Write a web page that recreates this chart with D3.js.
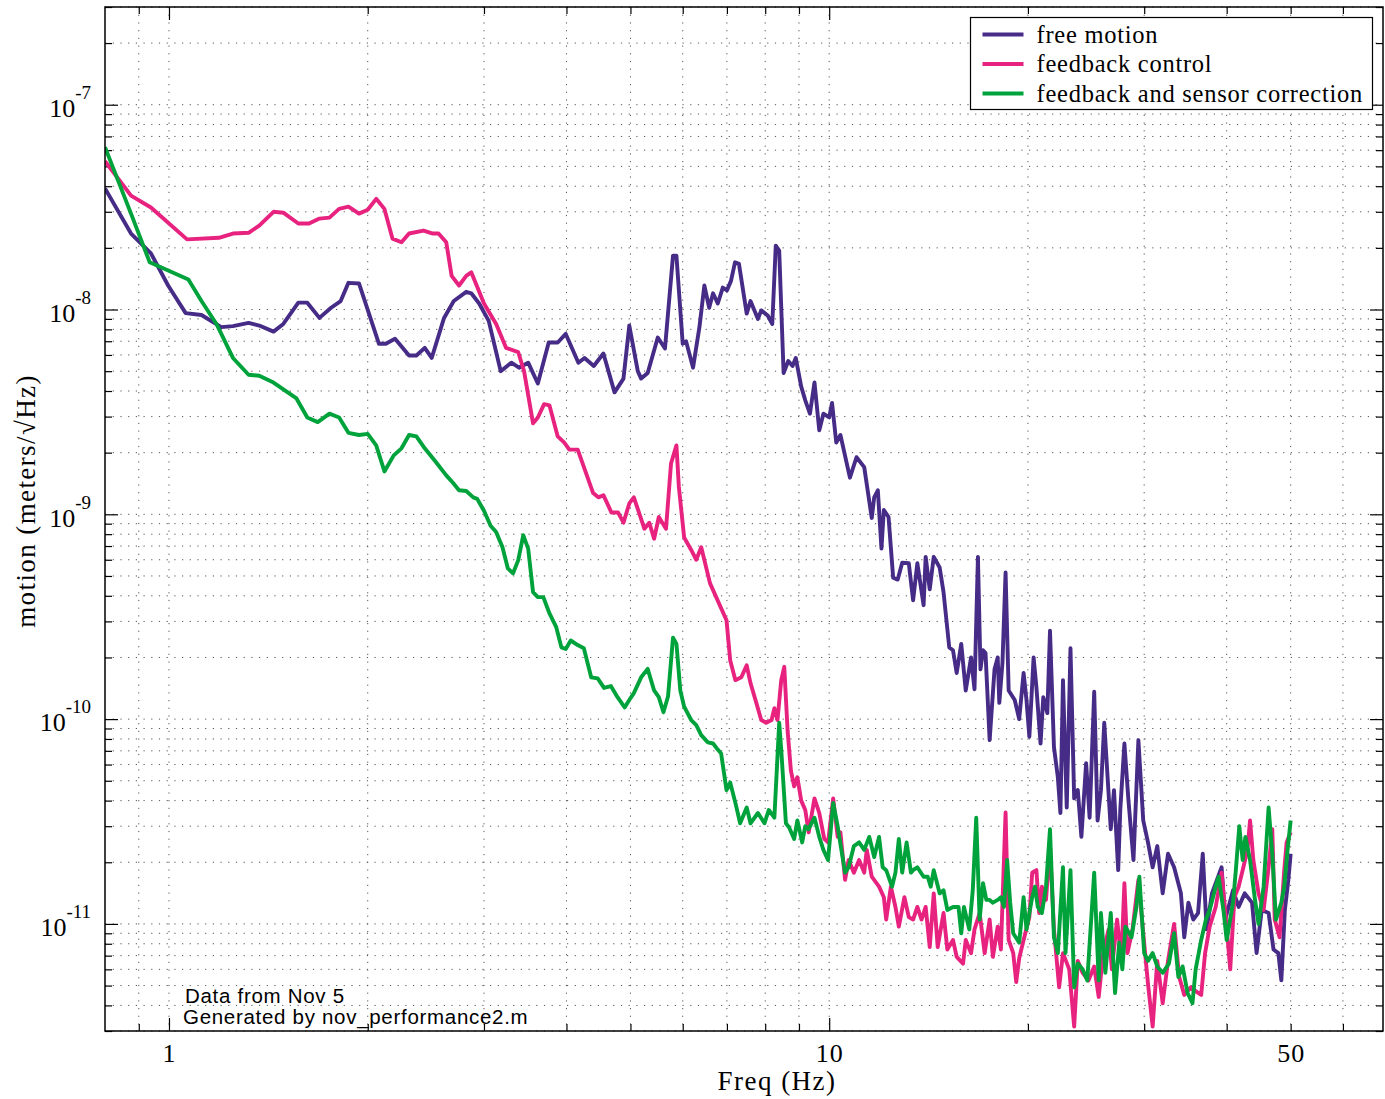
<!DOCTYPE html>
<html>
<head>
<meta charset="utf-8">
<script src="https://cdn.jsdelivr.net/npm/d3@7"></script>
<style>
  body { margin: 0; background: #fff; }
  svg { display: block; }
  .axis path { display: none; }
  .axis line { stroke: #000; stroke-width: 1.2; }
  .grid line { stroke: #555; stroke-width: 1; stroke-dasharray: 1.2, 6.5; }
</style>
</head>
<body>
<div id="chart"></div>
<script>
// free motion (purple) [Hz, m/rtHz]
var freeMotion = [
  [0.80, 3.9e-8], [0.876, 2.35e-8], [0.939, 1.88e-8], [0.997, 1.31e-8], [1.06, 9.6e-9],
  [1.12, 9.4e-9], [1.20, 8.2e-9], [1.25, 8.3e-9], [1.32, 8.6e-9], [1.37, 8.35e-9],
  [1.44, 7.8e-9], [1.49, 8.5e-9], [1.57, 1.08e-8], [1.62, 1.08e-8], [1.69, 9.1e-9],
  [1.76, 1.02e-8], [1.82, 1.1e-8], [1.87, 1.35e-8], [1.94, 1.34e-8], [2.08, 6.8e-9],
  [2.13, 6.8e-9], [2.20, 7.2e-9], [2.31, 5.96e-9], [2.37, 5.96e-9], [2.44, 6.5e-9],
  [2.50, 5.8e-9], [2.61, 9.1e-9], [2.70, 1.1e-8], [2.82, 1.22e-8], [2.87, 1.2e-8],
  [2.95, 1.07e-8], [3.05, 8.8e-9], [3.18, 5.0e-9], [3.30, 5.5e-9], [3.39, 5.2e-9],
  [3.50, 5.5e-9], [3.62, 4.35e-9], [3.76, 6.9e-9], [3.88, 6.9e-9], [3.99, 7.6e-9],
  [4.17, 5.5e-9], [4.26, 5.8e-9], [4.40, 5.3e-9], [4.55, 6.1e-9], [4.73, 3.94e-9],
  [4.88, 4.6e-9], [4.98, 8.35e-9], [5.13, 5.0e-9], [5.19, 4.6e-9], [5.31, 4.9e-9],
  [5.50, 7.3e-9], [5.64, 6.45e-9], [5.80, 1.83e-8], [5.87, 1.83e-8], [6.00, 6.8e-9],
  [6.07, 7.0e-9], [6.22, 5.2e-9], [6.36, 8.2e-9], [6.47, 1.31e-8], [6.58, 1.02e-8],
  [6.67, 1.2e-8], [6.78, 1.07e-8], [6.90, 1.28e-8], [7.00, 1.24e-8], [7.10, 1.38e-8],
  [7.20, 1.7e-8], [7.30, 1.67e-8], [7.50, 9.55e-9], [7.60, 1.1e-8], [7.80, 9.0e-9],
  [7.89, 9.9e-9], [8.07, 9.35e-9], [8.20, 8.5e-9], [8.30, 2.05e-8], [8.40, 1.94e-8],
  [8.53, 4.9e-9], [8.67, 5.6e-9], [8.80, 5.3e-9], [8.90, 5.8e-9], [9.07, 4.2e-9],
  [9.20, 3.6e-9], [9.35, 3.1e-9], [9.50, 4.4e-9], [9.66, 2.57e-9], [9.80, 3.1e-9],
  [10.0, 2.97e-9], [10.1, 3.5e-9], [10.25, 2.24e-9], [10.4, 2.44e-9], [10.75, 1.51e-9],
  [11.0, 1.9e-9], [11.3, 1.7e-9], [11.6, 9.6e-10], [11.7, 1.21e-9], [11.85, 1.31e-9],
  [12.0, 6.8e-10], [12.1, 1.05e-9], [12.3, 9.7e-10], [12.5, 4.9e-10], [12.7, 4.8e-10],
  [12.9, 5.8e-10], [13.2, 5.77e-10], [13.4, 3.8e-10], [13.6, 5.77e-10], [13.9, 3.6e-10],
  [14.0, 6.2e-10], [14.2, 4.3e-10], [14.4, 6.2e-10], [14.7, 5.5e-10], [14.9, 4.17e-10],
  [15.2, 2.24e-10], [15.4, 2.17e-10], [15.6, 1.68e-10], [15.85, 2.33e-10], [16.1, 1.38e-10],
  [16.4, 2.0e-10], [16.6, 1.4e-10], [16.8, 6.2e-10], [16.95, 1.75e-10], [17.1, 2.17e-10],
  [17.25, 2.1e-10], [17.5, 7.9e-11], [17.8, 1.75e-10], [18.0, 2.0e-10], [18.1, 1.2e-10],
  [18.3, 1.88e-10], [18.5, 5.2e-10], [18.7, 1.38e-10], [19.1, 1.24e-10], [19.4, 1.0e-10],
  [19.7, 1.68e-10], [19.9, 1.24e-10], [20.1, 8.2e-11], [20.4, 2.0e-10], [20.6, 1.43e-10],
  [20.9, 7.6e-11], [21.1, 1.28e-10], [21.4, 1.07e-10], [21.6, 2.7e-10], [21.9, 7.3e-11],
  [22.2, 5.2e-11], [22.4, 3.48e-11], [22.6, 1.55e-10], [22.9, 3.7e-11], [23.2, 2.22e-10],
  [23.5, 4.1e-11], [23.8, 4.5e-11], [24.1, 2.66e-11], [24.5, 6.1e-11], [24.8, 3.3e-11],
  [25.2, 1.36e-10], [25.5, 3.2e-11], [25.8, 4.5e-11], [26.1, 9.6e-11], [26.7, 2.9e-11],
  [27.0, 4.5e-11], [27.4, 1.83e-11], [27.6, 3.6e-11], [28.0, 7.6e-11], [28.4, 4.0e-11],
  [28.9, 2.05e-11], [29.4, 7.9e-11], [29.9, 3.2e-11], [30.4, 2.5e-11], [30.9, 1.89e-11],
  [31.4, 2.4e-11], [32.0, 1.41e-11], [32.6, 2.2e-11], [33.3, 1.89e-11], [34.1, 1.41e-11],
  [34.5, 8.6e-12], [35.0, 1.27e-11], [35.6, 1.05e-11], [36.2, 1.13e-11], [36.8, 2.2e-11],
  [37.3, 9.4e-12], [38.0, 1.41e-11], [39.3, 1.89e-11], [39.8, 1.05e-11], [40.9, 1.46e-11],
  [41.7, 1.21e-11], [42.6, 1.41e-11], [43.7, 1.27e-11], [44.4, 7.2e-12], [45.2, 1.17e-11],
  [46.3, 1.13e-11], [47.1, 7.5e-12], [47.9, 7.2e-12], [48.4, 5.3e-12], [49.0, 1.17e-11],
  [49.6, 1.64e-11], [50.0, 2.2e-11]
]

// feedback control (pink)
var feedbackControl = [
  [0.80, 5.3e-8], [0.876, 3.6e-8], [0.939, 3.15e-8], [1.065, 2.2e-8], [1.19, 2.24e-8],
  [1.25, 2.35e-8], [1.32, 2.37e-8], [1.37, 2.57e-8], [1.44, 3.0e-8], [1.49, 2.97e-8],
  [1.57, 2.63e-8], [1.63, 2.63e-8], [1.69, 2.78e-8], [1.75, 2.81e-8], [1.81, 3.1e-8],
  [1.87, 3.18e-8], [1.94, 2.94e-8], [2.0, 3.07e-8], [2.06, 3.47e-8], [2.12, 3.1e-8],
  [2.18, 2.22e-8], [2.25, 2.13e-8], [2.31, 2.35e-8], [2.43, 2.43e-8], [2.51, 2.35e-8],
  [2.56, 2.35e-8], [2.63, 2.13e-8], [2.68, 1.46e-8], [2.75, 1.31e-8], [2.82, 1.46e-8],
  [2.87, 1.52e-8], [3.0, 1.07e-8], [3.13, 8.5e-9], [3.24, 6.5e-9], [3.38, 6.2e-9],
  [3.45, 5.0e-9], [3.56, 2.78e-9], [3.62, 2.97e-9], [3.70, 3.45e-9], [3.77, 3.4e-9],
  [3.88, 2.4e-9], [3.97, 2.24e-9], [4.04, 2.07e-9], [4.16, 2.07e-9], [4.39, 1.27e-9],
  [4.47, 1.21e-9], [4.55, 1.24e-9], [4.68, 1.02e-9], [4.79, 1.02e-9], [4.88, 9.1e-10],
  [4.98, 1.13e-9], [5.06, 1.21e-9], [5.25, 8.5e-10], [5.34, 9.1e-10], [5.43, 7.6e-10],
  [5.52, 9.7e-10], [5.66, 8.5e-10], [5.76, 1.77e-9], [5.87, 2.17e-9], [5.92, 1.36e-9],
  [6.03, 7.7e-10], [6.18, 6.7e-10], [6.29, 6.0e-10], [6.40, 6.9e-10], [6.6, 4.6e-10],
  [6.99, 3.04e-10], [7.08, 1.94e-10], [7.21, 1.55e-10], [7.36, 1.6e-10], [7.50, 1.83e-10],
  [7.60, 1.5e-10], [7.75, 1.21e-10], [7.89, 9.9e-11], [8.03, 9.6e-11], [8.18, 9.9e-11],
  [8.26, 1.13e-10], [8.35, 9.9e-11], [8.46, 1.55e-10], [8.55, 1.8e-10], [8.65, 8.8e-11],
  [8.75, 5.6e-11], [8.85, 4.7e-11], [8.95, 5.2e-11], [9.07, 4.0e-11], [9.2, 3.6e-11],
  [9.31, 2.8e-11], [9.5, 4.1e-11], [9.66, 3.48e-11], [9.83, 2.6e-11], [9.96, 2.5e-11],
  [10.14, 4.1e-11], [10.3, 2.66e-11], [10.4, 2.8e-11], [10.57, 1.64e-11], [10.7, 2.05e-11],
  [10.9, 1.78e-11], [11.1, 2.05e-11], [11.3, 1.78e-11], [11.4, 2.3e-11], [11.6, 1.7e-11],
  [11.9, 1.52e-11], [12.1, 1.35e-11], [12.2, 1.05e-11], [12.4, 1.52e-11], [12.6, 1.21e-11],
  [12.75, 9.7e-12], [13.0, 1.35e-11], [13.2, 1.08e-11], [13.4, 1.05e-11], [13.6, 1.21e-11],
  [13.8, 1.05e-11], [14.0, 1.21e-11], [14.2, 7.7e-12], [14.4, 1.41e-11], [14.6, 7.7e-12],
  [14.9, 1.13e-11], [15.1, 7.5e-12], [15.4, 8.35e-12], [15.6, 6.9e-12], [15.95, 6.4e-12],
  [16.1, 8.35e-12], [16.4, 7.2e-12], [16.6, 9.4e-12], [16.9, 1.13e-11], [17.2, 7.2e-12],
  [17.5, 1.05e-11], [17.7, 6.9e-12], [18.0, 9.7e-12], [18.2, 7.5e-12], [18.5, 3.5e-11],
  [18.7, 8.35e-12], [19.0, 7.2e-12], [19.2, 5.2e-12], [19.4, 6.8e-12], [19.7, 8.35e-12],
  [20.1, 1.08e-11], [20.3, 1.78e-11], [20.6, 1.83e-11], [20.8, 1.13e-11], [21.0, 1.52e-11],
  [21.3, 1.31e-11], [21.6, 2.4e-11], [21.9, 9.4e-12], [22.3, 4.9e-12], [22.6, 7.2e-12],
  [23.1, 6.0e-12], [23.5, 3.15e-12], [23.8, 6.6e-12], [24.2, 5.77e-12], [24.7, 5.3e-12],
  [25.2, 6.2e-12], [25.6, 4.4e-12], [26.0, 7.2e-12], [26.5, 9.4e-12], [26.8, 6.0e-12],
  [27.3, 1.05e-11], [27.7, 6.6e-12], [28.0, 1.58e-11], [28.3, 7.2e-12], [28.8, 9.4e-12],
  [29.4, 1.64e-11], [29.9, 9.0e-12], [30.4, 5.1e-12], [30.9, 3.15e-12], [31.4, 6.6e-12],
  [32.0, 4.1e-12], [32.6, 6.6e-12], [33.3, 1.0e-11], [33.9, 5.5e-12], [34.5, 4.5e-12],
  [35.3, 4.9e-12], [35.9, 4.7e-12], [36.6, 4.5e-12], [37.1, 7.2e-12], [37.7, 9.7e-12],
  [38.5, 1.21e-11], [39.3, 1.78e-11], [39.9, 1.05e-11], [40.5, 6.0e-12], [41.1, 1.35e-11],
  [41.7, 1.52e-11], [42.4, 1.89e-11], [43.0, 2.3e-11], [43.4, 3.2e-11], [43.9, 2.05e-11],
  [44.7, 1.41e-11], [45.5, 1.17e-11], [46.3, 1.89e-11], [46.9, 2.9e-11], [47.3, 1.05e-11],
  [48.1, 8.6e-12], [48.9, 1.83e-11], [49.3, 2.5e-11], [50.0, 2.8e-11]
]

// feedback and sensor correction (green)
var sensorCorrection = [
  [0.80, 6.2e-8], [0.876, 2.94e-8], [0.935, 1.7e-8], [1.07, 1.4e-8], [1.12, 1.1e-8],
  [1.18, 8.5e-9], [1.25, 5.8e-9], [1.32, 4.8e-9], [1.37, 4.75e-9], [1.44, 4.4e-9],
  [1.56, 3.68e-9], [1.62, 2.97e-9], [1.68, 2.82e-9], [1.75, 3.1e-9], [1.81, 2.97e-9],
  [1.87, 2.5e-9], [1.94, 2.44e-9], [2.0, 2.47e-9], [2.06, 2.17e-9], [2.12, 1.62e-9],
  [2.19, 1.94e-9], [2.25, 2.1e-9], [2.31, 2.44e-9], [2.37, 2.4e-9], [2.44, 2.1e-9],
  [2.54, 1.79e-9], [2.63, 1.55e-9], [2.69, 1.43e-9], [2.75, 1.31e-9], [2.82, 1.3e-9],
  [2.89, 1.21e-9], [2.93, 1.19e-9], [3.0, 1.04e-9], [3.07, 8.8e-10], [3.13, 8.2e-10],
  [3.2, 6.9e-10], [3.26, 5.45e-10], [3.32, 5.15e-10], [3.38, 5.96e-10], [3.44, 7.9e-10],
  [3.5, 6.8e-10], [3.56, 4.17e-10], [3.62, 3.94e-10], [3.69, 3.94e-10], [3.77, 3.28e-10],
  [3.86, 2.81e-10], [3.93, 2.24e-10], [3.99, 2.2e-10], [4.06, 2.42e-10], [4.16, 2.3e-10],
  [4.25, 2.22e-10], [4.36, 1.6e-10], [4.46, 1.58e-10], [4.56, 1.42e-10], [4.67, 1.45e-10],
  [4.78, 1.28e-10], [4.9, 1.14e-10], [4.98, 1.24e-10], [5.06, 1.34e-10], [5.19, 1.6e-10],
  [5.31, 1.76e-10], [5.43, 1.38e-10], [5.52, 1.28e-10], [5.61, 1.08e-10], [5.7, 1.29e-10],
  [5.8, 2.5e-10], [5.87, 2.33e-10], [5.95, 1.38e-10], [6.03, 1.15e-10], [6.18, 9.9e-11],
  [6.29, 9.35e-11], [6.4, 8.35e-11], [6.55, 7.7e-11], [6.67, 7.6e-11], [6.78, 7.1e-11],
  [6.86, 6.8e-11], [6.99, 4.5e-11], [7.08, 4.9e-11], [7.21, 3.9e-11], [7.33, 3.1e-11],
  [7.5, 3.7e-11], [7.6, 3.1e-11], [7.8, 3.48e-11], [7.98, 3.1e-11], [8.1, 3.6e-11],
  [8.26, 3.3e-11], [8.4, 9.6e-11], [8.46, 7.1e-11], [8.6, 3.1e-11], [8.7, 2.95e-11],
  [8.85, 2.6e-11], [8.95, 3.2e-11], [9.1, 2.5e-11], [9.2, 3.0e-11], [9.3, 2.9e-11],
  [9.5, 3.3e-11], [9.66, 2.66e-11], [9.8, 2.3e-11], [9.96, 2.05e-11], [10.14, 3.9e-11],
  [10.3, 3.0e-11], [10.37, 2.6e-11], [10.57, 1.78e-11], [10.7, 1.89e-11], [10.9, 2.4e-11],
  [11.1, 2.5e-11], [11.3, 2.3e-11], [11.5, 2.66e-11], [11.7, 2.12e-11], [11.9, 2.66e-11],
  [12.05, 1.89e-11], [12.2, 1.83e-11], [12.45, 1.52e-11], [12.6, 1.78e-11], [12.75, 2.6e-11],
  [12.9, 1.78e-11], [13.1, 2.5e-11], [13.3, 1.78e-11], [13.4, 1.83e-11], [13.6, 1.89e-11],
  [13.9, 1.7e-11], [14.1, 1.7e-11], [14.25, 1.52e-11], [14.4, 1.83e-11], [14.7, 1.41e-11],
  [14.9, 1.46e-11], [15.1, 1.17e-11], [15.4, 1.21e-11], [15.7, 1.21e-11], [15.85, 9.0e-12],
  [16.0, 1.21e-11], [16.3, 9.4e-12], [16.5, 1.46e-11], [16.7, 3.3e-11], [16.9, 1.05e-11],
  [17.1, 1.58e-11], [17.3, 1.31e-11], [17.5, 1.31e-11], [17.7, 1.27e-11], [18.0, 1.31e-11],
  [18.2, 1.35e-11], [18.4, 1.21e-11], [18.6, 2.05e-11], [18.8, 1.27e-11], [19.0, 9.0e-12],
  [19.4, 8.1e-12], [19.7, 1.35e-11], [19.9, 9.4e-12], [20.3, 1.35e-11], [20.5, 1.52e-11],
  [20.7, 1.21e-11], [21.0, 1.13e-11], [21.3, 1.52e-11], [21.6, 2.9e-11], [21.9, 8.6e-12],
  [22.2, 7.2e-12], [22.6, 1.89e-11], [22.8, 7.2e-12], [23.2, 1.83e-11], [23.5, 4.9e-12],
  [23.8, 6.4e-12], [24.2, 6.0e-12], [24.6, 5.3e-12], [25.2, 1.78e-11], [25.6, 5.3e-12],
  [25.8, 1.13e-11], [26.2, 5.77e-12], [26.7, 1.13e-11], [27.1, 4.6e-12], [27.5, 8.1e-12],
  [27.8, 6.0e-12], [28.1, 9.7e-12], [28.7, 8.6e-12], [29.2, 1.21e-11], [29.5, 1.7e-11],
  [30.0, 7.2e-12], [30.4, 6.6e-12], [30.9, 7.2e-12], [31.4, 6.2e-12], [32.0, 5.77e-12],
  [32.7, 6.4e-12], [33.3, 9.0e-12], [33.8, 5.5e-12], [34.3, 6.2e-12], [34.9, 4.6e-12],
  [35.5, 4.1e-12], [35.9, 6.0e-12], [36.6, 8.35e-12], [37.2, 1.05e-11], [37.7, 1.17e-11],
  [38.5, 1.52e-11], [38.9, 1.7e-11], [39.6, 1.13e-11], [40.0, 8.35e-12], [40.9, 1.27e-11],
  [41.3, 1.83e-11], [41.8, 3.0e-11], [42.3, 2.05e-11], [42.7, 2.66e-11], [43.4, 2.05e-11],
  [44.1, 1.35e-11], [44.7, 1.0e-11], [45.5, 1.52e-11], [46.0, 2.66e-11], [46.3, 3.7e-11],
  [46.9, 2.2e-11], [47.5, 1.05e-11], [48.4, 1.27e-11], [48.9, 1.52e-11], [49.4, 2.2e-11],
  [50.0, 3.2e-11]
]

var seriesNames = ['free motion', 'feedback control', 'feedback and sensor correction']
var seriesColors = ['#462c87', '#e7237f', '#00a33b']

var xMajorTicks = [1, 10]
var xMinorTicks = [0.9, 2, 3, 4, 5, 6, 7, 8, 9, 20, 30, 40, 50, 60]
var xTickLabels = [1, 10, 50]
var yMajorTicks = [1e-11, 1e-10, 1e-9, 1e-8, 1e-7]
var yMinorTicks = []
;[1e-12, 1e-11, 1e-10, 1e-9, 1e-8, 1e-7].forEach(function(d) {
  for (var k = 2; k <= 9; k++) {
    var v = +(k * d).toPrecision(2)
    if (v >= 3e-12 && v <= 3e-7) yMinorTicks.push(v)
  }
})

var serif = 'Liberation Serif, Times New Roman, serif'
var margin = { top: 7, left: 105, right: 2, bottom: 68 }
var width = 1385 - margin.left - margin.right
var height = 1099 - margin.top - margin.bottom

var svg = d3.select('#chart')
  .append('svg')
  .attr('width', 1385)
  .attr('height', 1099)

var g = svg.append('g')
  .attr('transform', 'translate(' + margin.left + ',' + margin.top + ')')

var xPositionScale = d3.scaleLog().domain([0.8, 69]).range([0, width])
var yPositionScale = d3.scaleLog().domain([3e-12, 3e-7]).range([height, 0])

// dotted grid
g.append('g')
  .attr('class', 'grid')
  .selectAll('line')
  .data(xMajorTicks.concat(xMinorTicks))
  .enter().append('line')
  .attr('x1', d => xPositionScale(d)).attr('x2', d => xPositionScale(d))
  .attr('y1', 0).attr('y2', height)

g.append('g')
  .attr('class', 'grid')
  .selectAll('line')
  .data(yMajorTicks.concat(yMinorTicks))
  .enter().append('line')
  .attr('y1', d => yPositionScale(d)).attr('y2', d => yPositionScale(d))
  .attr('x1', 0).attr('x2', width)

// ticks on all four sides, pointing in
function tickAxes(axisFn, scale, vals, size, transform) {
  g.append('g')
    .attr('class', 'axis')
    .attr('transform', transform)
    .call(axisFn(scale).tickValues(vals).tickSize(-size).tickFormat(''))
}
tickAxes(d3.axisBottom, xPositionScale, xMinorTicks, 7, 'translate(0,' + height + ')')
tickAxes(d3.axisBottom, xPositionScale, xMajorTicks, 13, 'translate(0,' + height + ')')
tickAxes(d3.axisTop, xPositionScale, xMinorTicks, 7, 'translate(0,0)')
tickAxes(d3.axisTop, xPositionScale, xMajorTicks, 13, 'translate(0,0)')
tickAxes(d3.axisLeft, yPositionScale, yMinorTicks, 7, 'translate(0,0)')
tickAxes(d3.axisLeft, yPositionScale, yMajorTicks, 13, 'translate(0,0)')
tickAxes(d3.axisRight, yPositionScale, yMinorTicks, 7, 'translate(' + width + ',0)')
tickAxes(d3.axisRight, yPositionScale, yMajorTicks, 13, 'translate(' + width + ',0)')

// x labels
g.append('g')
  .attr('class', 'axis x-labels')
  .attr('transform', 'translate(0,' + height + ')')
  .call(d3.axisBottom(xPositionScale).tickValues(xTickLabels).tickSize(0).tickPadding(13)
    .tickFormat(d3.format('d')))
  .selectAll('text')
  .attr('font-family', serif)
  .attr('font-size', 26)
  .attr('letter-spacing', 1)
  .attr('fill', '#000')

// y labels with superscript exponents
g.append('g')
  .attr('class', 'axis y-labels')
  .call(d3.axisLeft(yPositionScale).tickValues(yMajorTicks).tickSize(0).tickPadding(14))
  .selectAll('text')
  .attr('font-family', serif)
  .attr('font-size', 26)
  .attr('fill', '#000')
  .attr('dy', '0.45em')
  .each(function(d) {
    var t = d3.select(this).text(null)
    t.append('tspan').text('10')
    t.append('tspan')
      .attr('dy', -18)
      .attr('font-size', 19)
      .text(Math.round(Math.log10(d)))
  })

// lines
var line = d3.line()
  .x(d => xPositionScale(d[0]))
  .y(d => yPositionScale(d[1]))

g.append('clipPath').attr('id', 'plot-clip')
  .append('rect').attr('width', width).attr('height', height)

var plotArea = g.append('g').attr('clip-path', 'url(#plot-clip)')
;[freeMotion, feedbackControl, sensorCorrection].forEach(function(data, i) {
  plotArea.append('path')
    .datum(data)
    .attr('d', line)
    .attr('fill', 'none')
    .attr('stroke', seriesColors[i])
    .attr('stroke-width', 3.9)
    .attr('stroke-linejoin', 'round')
})

// frame
g.append('rect')
  .attr('width', width).attr('height', height)
  .attr('fill', 'none').attr('stroke', '#000').attr('stroke-width', 1.5)

// legend
var legend = svg.append('g').attr('transform', 'translate(970.5,17.5)')
legend.append('rect')
  .attr('width', 402).attr('height', 92)
  .attr('fill', '#fff').attr('stroke', '#000').attr('stroke-width', 1.2)
seriesNames.forEach(function(name, i) {
  var yy = 17 + i * 29.5
  legend.append('line')
    .attr('x1', 12).attr('x2', 53).attr('y1', yy).attr('y2', yy)
    .attr('stroke', seriesColors[i]).attr('stroke-width', 3.9)
  legend.append('text')
    .attr('x', 66).attr('y', yy + 8)
    .attr('font-family', serif)
    .attr('font-size', 24.5)
    .attr('letter-spacing', 0.75)
    .text(name)
})

// axis titles
svg.append('text')
  .attr('x', 777).attr('y', 1090)
  .attr('text-anchor', 'middle')
  .attr('font-family', serif)
  .attr('font-size', 27)
  .attr('letter-spacing', 1.5)
  .text('Freq (Hz)')

svg.append('text')
  .attr('transform', 'translate(35,501) rotate(-90)')
  .attr('text-anchor', 'middle')
  .attr('font-family', serif)
  .attr('font-size', 27)
  .attr('letter-spacing', 1.4)
  .text('motion (meters/\u221AHz)')

// notes
svg.append('text')
  .attr('x', 185).attr('y', 1003)
  .attr('font-family', 'Liberation Sans, Arial, sans-serif')
  .attr('font-size', 20.5)
  .attr('letter-spacing', 0.7)
  .text('Data from Nov 5')
svg.append('text')
  .attr('x', 183).attr('y', 1024)
  .attr('font-family', 'Liberation Sans, Arial, sans-serif')
  .attr('font-size', 20.5)
  .attr('letter-spacing', 0.7)
  .text('Generated by nov_performance2.m')
</script>
</body>
</html>
